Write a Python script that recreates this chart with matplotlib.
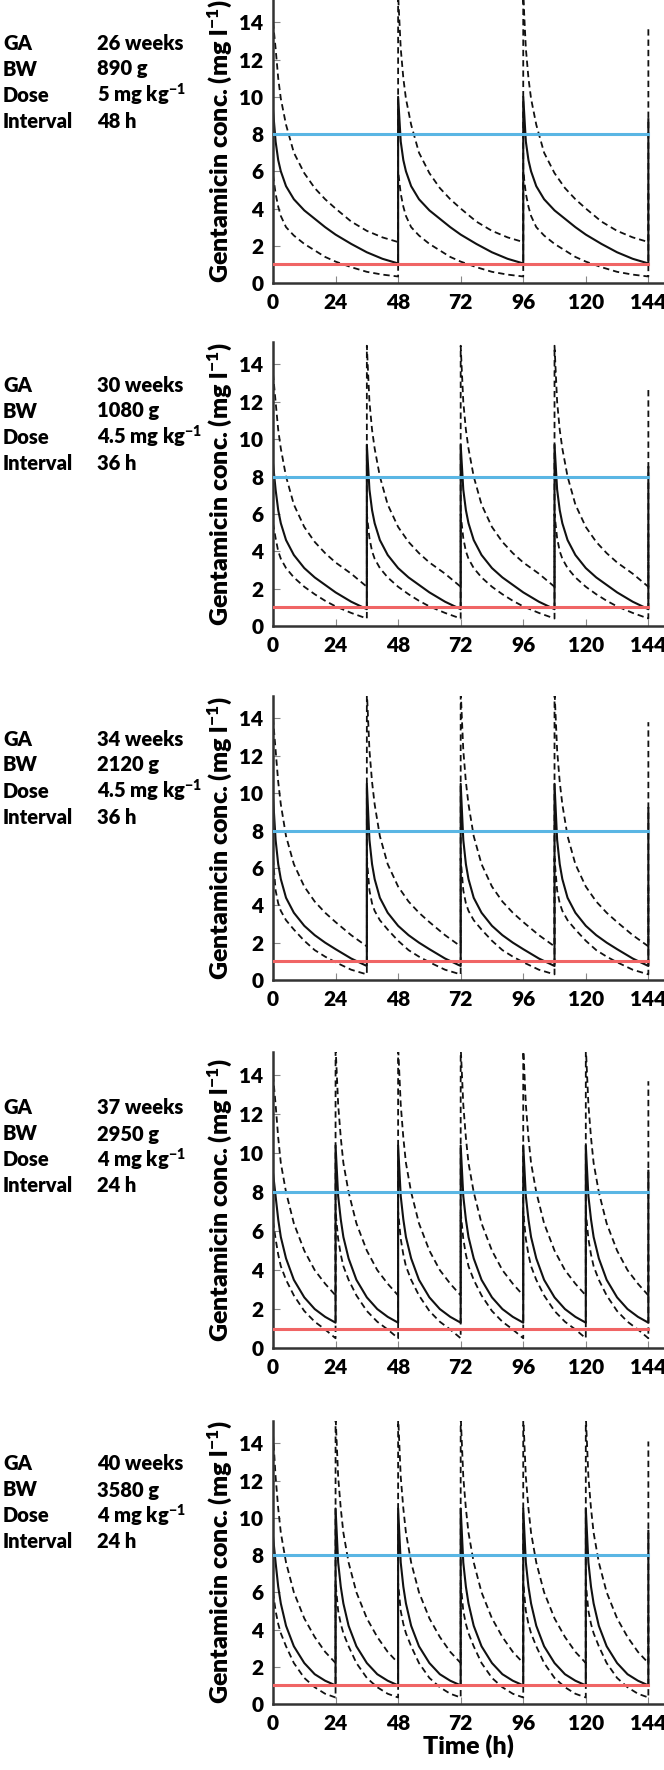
import matplotlib
matplotlib.use("Agg")
import matplotlib.pyplot as plt

plt.rcParams["font.family"] = ["Lato", "DejaVu Sans"]
plt.rcParams["font.weight"] = "heavy"
plt.rcParams["axes.labelweight"] = "heavy"
plt.rcParams["mathtext.default"] = "regular"

# patient details per panel
ga_weeks = [26, 30, 34, 37, 40]
bw_g = [890, 1080, 2120, 2950, 3580]
dose_mgkg = ["5", "4.5", "4.5", "4", "4"]
interval_h = [48, 36, 36, 24, 24]

# hours after each dose at which the profiles were read
dt_48 = [0, 1, 2, 3, 5, 8, 12, 16, 20, 24, 30, 36, 42, 48]
dt_36 = [0, 1, 2, 3, 5, 8, 12, 16, 20, 24, 30, 36]
dt_24 = [0, 1, 2, 3, 5, 8, 12, 16, 20, 24]
dt_all = [dt_48, dt_36, dt_36, dt_24, dt_24]

# one dosing interval (mg/l): median, upper and lower percentile
median = [
    [10.0, 7.6, 6.6, 6.0, 5.2, 4.5, 3.9, 3.45, 3.0, 2.6, 2.1, 1.65, 1.3, 1.05],
    [9.7, 7.3, 6.2, 5.5, 4.6, 3.8, 3.1, 2.6, 2.2, 1.8, 1.3, 0.9],
    [10.5, 7.5, 6.2, 5.4, 4.4, 3.6, 2.9, 2.4, 2.0, 1.65, 1.15, 0.75],
    [10.4, 7.8, 6.6, 5.7, 4.6, 3.5, 2.6, 2.0, 1.6, 1.3],
    [10.5, 7.6, 6.3, 5.4, 4.2, 3.1, 2.2, 1.6, 1.25, 1.0],
]
upper = [
    [15.5, 12.6, 11.0, 9.9, 8.5, 7.0, 5.9, 5.1, 4.5, 4.0, 3.3, 2.8, 2.45, 2.2],
    [15.0, 12.0, 10.5, 9.5, 8.0, 6.5, 5.3, 4.5, 3.9, 3.4, 2.8, 2.1],
    [15.5, 12.3, 10.6, 9.4, 7.7, 6.2, 5.0, 4.2, 3.6, 3.1, 2.4, 1.8],
    [15.5, 12.5, 10.8, 9.5, 8.0, 6.4, 5.0, 4.0, 3.3, 2.7],
    [15.5, 12.2, 10.5, 9.2, 7.6, 6.0, 4.6, 3.6, 2.8, 2.2],
]
lower = [
    [6.0, 4.8, 4.1, 3.6, 3.0, 2.55, 2.1, 1.75, 1.4, 1.15, 0.85, 0.6, 0.45, 0.35],
    [6.0, 4.7, 4.0, 3.6, 3.1, 2.6, 2.1, 1.7, 1.35, 1.05, 0.7, 0.4],
    [6.5, 4.8, 4.1, 3.7, 3.2, 2.7, 2.1, 1.6, 1.25, 0.95, 0.55, 0.3],
    [7.0, 5.6, 4.8, 4.2, 3.5, 2.7, 1.9, 1.35, 0.95, 0.5],
    [6.5, 5.0, 4.3, 3.8, 3.1, 2.2, 1.4, 0.9, 0.55, 0.35],
]
# value just after the first dose, and the peak reached by the dose at 144 h
first_med = [9.3, 8.7, 9.8, 9.0, 9.0]
first_upp = [14.0, 13.5, 14.0, 14.0, 14.5]
first_low = [5.8, 5.5, 6.5, 6.5, 6.0]
last_med = [8.8, 8.5, 9.2, 9.1, 9.3]
last_upp = [13.7, 12.8, 13.8, 13.7, 14.1]
last_low = [5.0, 5.0, 5.0, 5.0, 5.0]

peak_target = 8
trough_target = 1
t_end = 144

# axes boxes in pixels: (bottom, top)
boxes = [(283, 0), (626, 342), (980, 696), (1348, 1052), (1704, 1421)]
W, H = 664, 1770


def series(dts, prof, interval, first, last):
    t, c = [], []
    for k, start in enumerate(range(0, t_end, interval)):
        vals = list(prof)
        if k == 0:
            vals[0] = first
        t += [start + d for d in dts]
        c += vals
    t.append(t_end)
    c.append(last)
    return t, c


fig = plt.figure(figsize=(W / 100, H / 100), dpi=100)

for i in range(5):
    bot, top = boxes[i]
    ax = fig.add_axes([273 / W, 1 - bot / H, (W - 273) / W, (bot - top) / H])
    iv = interval_h[i]
    dts = dt_all[i]

    t, c = series(dts, upper[i], iv, first_upp[i], last_upp[i])
    ax.plot(t, c, color="#111111", lw=1.3, dashes=(3.5, 2.2))
    t, c = series(dts, lower[i], iv, first_low[i], last_low[i])
    ax.plot(t, c, color="#111111", lw=1.3, dashes=(3.5, 2.2))
    t, c = series(dts, median[i], iv, first_med[i], last_med[i])
    ax.plot(t, c, color="#111111", lw=1.5)

    ax.plot([0, t_end], [peak_target] * 2, color="#5ab6e4", lw=2.2, zorder=5)
    ax.plot([0, t_end], [trough_target] * 2, color="#f06565", lw=2.2, zorder=5)

    ax.set_xlim(0, 150)
    ax.set_ylim(0, 15.2)
    ax.set_xticks(range(0, 145, 24))
    ax.set_yticks(range(0, 15, 2))
    ax.tick_params(direction="in", length=5, width=0.8, color="#888888",
                   labelsize=15, pad=7)
    for s in ["top", "right"]:
        ax.spines[s].set_visible(False)
    for s in ["left", "bottom"]:
        ax.spines[s].set_linewidth(1.8)
        ax.spines[s].set_color("#333333")

    ax.set_ylabel("Gentamicin conc. (mg l$^{-1}$)", fontsize=18, va="center")
    ax.yaxis.set_label_coords(-0.136, 0.5)
    if i == 4:
        ax.set_xlabel("Time (h)", fontsize=18, labelpad=1)

    # patient text block
    rows = [("GA", f"{ga_weeks[i]} weeks"), ("BW", f"{bw_g[i]} g"),
            ("Dose", f"{dose_mgkg[i]} mg kg$^{{-1}}$"), ("Interval", f"{iv} h")]
    y0 = top + 43
    if i == 3:
        y0 = top + 56
    for j, (lab, val) in enumerate(rows):
        y = 1 - (y0 + 26 * j) / H
        fig.text(3 / W, y, lab, fontsize=14.5, va="center", ha="left")
        fig.text(97 / W, y, val, fontsize=14.5, va="center", ha="left")

fig.savefig("out.png", dpi=100)
